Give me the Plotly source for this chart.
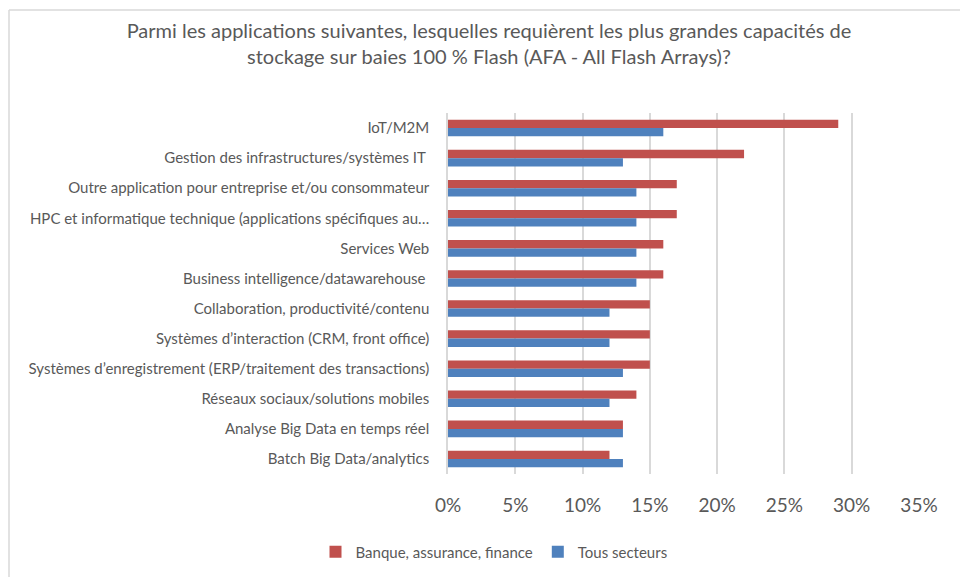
import plotly.graph_objects as go

categories = [
    "IoT/M2M",
    "Gestion des infrastructures/systèmes IT ",
    "Outre application pour entreprise et/ou consommateur",
    "HPC et informatique technique (applications spécifiques au…",
    "Services Web",
    "Business intelligence/datawarehouse ",
    "Collaboration, productivité/contenu",
    "Systèmes d’interaction (CRM, front office)",
    "Systèmes d’enregistrement (ERP/traitement des transactions)",
    "Réseaux sociaux/solutions mobiles",
    "Analyse Big Data en temps réel",
    "Batch Big Data/analytics",
]
banque = [0.29, 0.22, 0.17, 0.17, 0.16, 0.16, 0.15, 0.15, 0.15, 0.14, 0.13, 0.12]
tous = [0.16, 0.13, 0.14, 0.14, 0.14, 0.14, 0.12, 0.12, 0.13, 0.12, 0.13, 0.13]
series_names = ["Banque, assurance, finance", "Tous secteurs"]
tick_vals = [0, 0.05, 0.10, 0.15, 0.20, 0.25, 0.30, 0.35]
tick_text = ["0%", "5%", "10%", "15%", "20%", "25%", "30%", "35%"]
title_text = ("Parmi les applications suivantes, lesquelles requièrent les plus grandes capacités de"
              "<br>stockage sur baies 100 % Flash (AFA - All Flash Arrays)?")

FONT = "Lato"
GREY = "#595959"

fig = go.Figure()
fig.add_trace(go.Bar(y=categories, x=banque, name=series_names[0], orientation="h",
                     marker=dict(color="#C0504D", line=dict(width=0))))
fig.add_trace(go.Bar(y=categories, x=tous, name=series_names[1], orientation="h",
                     marker=dict(color="#4F81BD", line=dict(width=0))))

W, H = 960, 577
L, R, T, B = 448, 41, 113, 103

fig.update_layout(
    width=W, height=H,
    margin=dict(l=L, r=R, t=T, b=B, autoexpand=False),
    paper_bgcolor="white", plot_bgcolor="white",
    barmode="group", bargap=0.45, bargroupgap=0,
    font=dict(family=FONT, color=GREY),
    title=dict(text=title_text, xref="container", yref="container",
               x=489 / W, xanchor="center", y=1 - 38 / H, yanchor="top",
               font=dict(family=FONT, size=20, color=GREY)),
    xaxis=dict(range=[0, 0.35], tickvals=tick_vals, ticktext=tick_text,
               showgrid=True, gridcolor="#D9D9D9", gridwidth=1.5,
               zeroline=False, showline=False, automargin=False,
               tickfont=dict(family=FONT, size=19, color=GREY),
               ticklabelstandoff=18),
    yaxis=dict(autorange="reversed", showgrid=False, zeroline=False,
               showline=True, linecolor="#D9D9D9", linewidth=1.5, automargin=False,
               tickfont=dict(family=FONT, size=15, color=GREY),
               ticklabelstandoff=14),
    legend=dict(orientation="h", x=494 / W, xref="container", xanchor="center",
                y=1 - 552 / H, yref="container", yanchor="middle",
                font=dict(family=FONT, size=15, color=GREY),
                itemwidth=30, traceorder="normal"),
)

# chart outer border (top and left edges visible)
px = lambda x: (x - L) / (W - L - R)
py = lambda y: 1 - (y - T) / (H - T - B)
fig.add_shape(type="line", xref="paper", yref="paper", x0=px(9), x1=px(960), y0=py(10), y1=py(10),
              line=dict(color="#D9D9D9", width=1.5))
fig.add_shape(type="line", xref="paper", yref="paper", x0=px(9), x1=px(9), y0=py(10), y1=py(577),
              line=dict(color="#D9D9D9", width=1.5))

fig.write_html("out.html", post_script="document.body.style.margin='0';",
               config={"displayModeBar": False})
